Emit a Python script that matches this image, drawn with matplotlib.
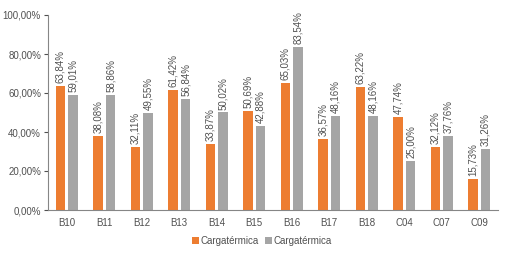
import matplotlib
matplotlib.use("Agg")
import matplotlib.pyplot as plt
from matplotlib.ticker import FuncFormatter
import numpy as np

categories = ["B10", "B11", "B12", "B13", "B14", "B15", "B16", "B17", "B18", "C04", "C07", "C09"]
series1 = [63.84, 38.08, 32.11, 61.42, 33.87, 50.69, 65.03, 36.57, 63.22, 47.74, 32.12, 15.73]
series2 = [59.01, 58.86, 49.55, 56.84, 50.02, 42.88, 83.54, 48.16, 48.16, 25.00, 37.76, 31.26]
labels = ["Cargatérmica", "Cargatérmica"]
yticks = [0, 20, 40, 60, 80, 100]

plt.rcParams['font.family'] = ['Liberation Sans', 'DejaVu Sans']
fig = plt.figure(figsize=(5.07, 2.56), dpi=100)
ax = fig.add_axes([48/507, 46/256, 450/507, 195/256])

x = np.arange(len(categories))
w = 0.25
off = 0.17
orange = "#ED7D31"
gray = "#A5A5A5"
tc = "#505050"
fs = 7
b1 = ax.bar(x - off, series1, w, color=orange, label=labels[0])
b2 = ax.bar(x + off, series2, w, color=gray, label=labels[1])

def fmt(v):
    return f"{v:.2f}%".replace(".", ",")

for bars, vals in ((b1, series1), (b2, series2)):
    for r, v in zip(bars, vals):
        ax.text(r.get_x() + r.get_width()/2, v + 1.5, fmt(v), rotation=90,
                ha="center", va="bottom", fontsize=fs, color=tc)

ax.set_xlim(-0.5, len(categories) - 0.5)
ax.set_ylim(0, 100)
ax.set_yticks(yticks)
ax.yaxis.set_major_formatter(FuncFormatter(lambda v, p: f"{v:.2f}%".replace(".", ",")))
ax.set_xticks(x)
ax.set_xticklabels(categories)
ax.tick_params(axis="x", length=0, labelsize=fs, colors=tc, pad=6)
ax.tick_params(axis="y", length=3, labelsize=fs, colors=tc, direction="out", pad=2)
for s in ("top", "right"):
    ax.spines[s].set_visible(False)
ax.spines["left"].set_color("#868686")
ax.spines["bottom"].set_color("#868686")

fig.legend(handles=[b1, b2], labels=labels, loc="center", bbox_to_anchor=(262/507, 1 - 241/256),
           ncol=2, frameon=False, fontsize=fs, handlelength=0.7, handleheight=0.7,
           handletextpad=0.2, columnspacing=0.6, labelcolor=tc)

fig.savefig("out.png", dpi=100)
